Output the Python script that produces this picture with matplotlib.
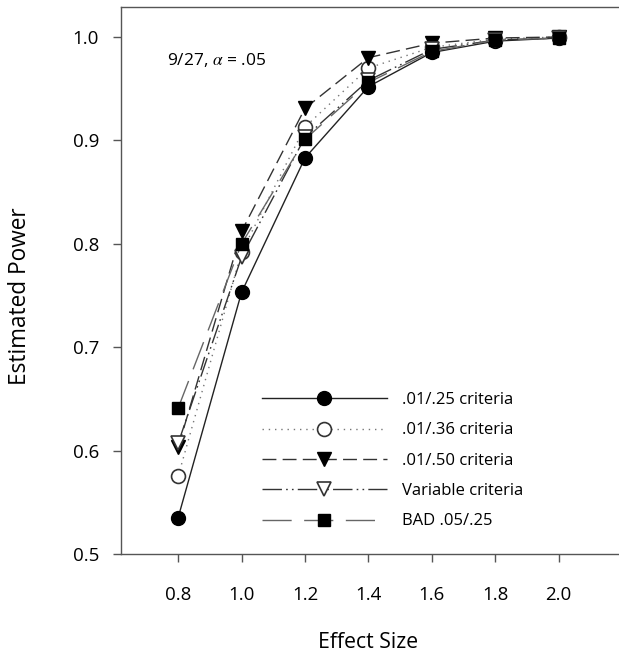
import numpy as np
import matplotlib
matplotlib.use("Agg")
import matplotlib.pyplot as plt

plt.rcParams['font.family'] = ['Open Sans', 'DejaVu Sans']
plt.rcParams['mathtext.fontset'] = 'stix'

effect_size = [0.8, 1.0, 1.2, 1.4, 1.6, 1.8, 2.0]
crit_01_25 = [0.535, 0.753, 0.883, 0.952, 0.985, 0.996, 0.999]
crit_01_36 = [0.575, 0.792, 0.913, 0.970, 0.990, 0.998, 1.000]
crit_01_50 = [0.603, 0.812, 0.931, 0.980, 0.994, 0.999, 1.000]
crit_variable = [0.607, 0.787, 0.903, 0.958, 0.988, 0.997, 0.999]
bad_05_25 = [0.641, 0.800, 0.901, 0.956, 0.986, 0.997, 0.999]
series_labels = ['.01/.25 criteria', '.01/.36 criteria', '.01/.50 criteria',
                 'Variable criteria', 'BAD .05/.25']

fig = plt.figure(figsize=(6.19, 6.55), dpi=100)
ax = fig.add_axes([121/619, 1 - 554/655, 498/619, 547/655])

lw = 1.0
ms = 10
ax.plot(effect_size, crit_01_25, color='#222222', lw=lw, ls='-',
        marker='o', ms=ms, mfc='black', mec='black', label=series_labels[0])
ax.plot(effect_size, crit_01_36, color='#777777', lw=lw, ls=(0, (1, 3.5)),
        marker='o', ms=ms, mfc='white', mec='#333333', mew=1.2, label=series_labels[1])
ax.plot(effect_size, crit_01_50, color='#333333', lw=lw, ls=(0, (10, 4.5)),
        marker='v', ms=ms, mfc='black', mec='black', label=series_labels[2])
ax.plot(effect_size, crit_variable, color='#333333', lw=lw, ls=(0, (14, 3, 1.2, 3, 1.2, 3)),
        marker='v', ms=ms, mfc='white', mec='#333333', mew=1.2, label=series_labels[3])
ax.plot(effect_size, bad_05_25, color='#666666', lw=lw, ls=(0, (21, 9)),
        marker='s', ms=ms - 1, mfc='black', mec='black', label=series_labels[4])

ax.set_xlim(0.62, 2.19)
ax.set_ylim(0.5, 1.029)
ax.set_xticks(effect_size)
ax.set_xticklabels(['%.1f' % v for v in effect_size])
ax.set_yticks([0.5, 0.6, 0.7, 0.8, 0.9, 1.0])
ax.set_yticklabels(['0.5', '0.6', '0.7', '0.8', '0.9', '1.0'])

for s in ['left', 'bottom', 'top']:
    ax.spines[s].set_color('#555555')
    ax.spines[s].set_linewidth(1.0)
ax.spines['right'].set_visible(False)
ax.tick_params(axis='both', direction='out', length=5.8, width=1.0, color='#555555',
               labelsize=13.5)
ax.tick_params(axis='y', pad=10)
ax.tick_params(axis='x', pad=17)

ax.set_xlabel('Effect Size', fontsize=15.3)
ax.set_ylabel('Estimated Power', fontsize=16.3)
ax.xaxis.set_label_coords(0.496, -0.143)
ax.yaxis.set_label_coords(-0.179, 0.472)

ax.text(0.093, 0.894, r'9/27, $\alpha$ = .05', transform=ax.transAxes, fontsize=12.5)

ax.legend(loc='upper left', bbox_to_anchor=(0.283, 0.296), frameon=False,
          numpoints=1, handlelength=7.5, handletextpad=0.9, labelspacing=0.86,
          borderpad=0, borderaxespad=0, fontsize=12)

fig.savefig('out.png', dpi=100)
